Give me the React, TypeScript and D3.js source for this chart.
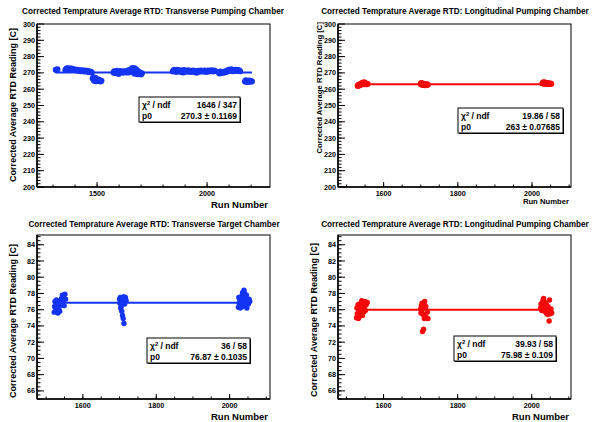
import React, { Component } from 'react';
import * as d3 from 'd3';

// run number, corrected average RTD reading [C]
const transPumping = [
  [1312, 272.0], [1316, 271.6], [1320, 272.2],
  [1356, 271.8], [1360, 272.6], [1364, 272.9], [1368, 272.3], [1372, 272.8], [1376, 271.9],
  [1380, 272.5], [1384, 272.7], [1388, 272.1], [1392, 272.4], [1396, 271.8], [1400, 272.0],
  [1404, 271.6], [1408, 271.9], [1412, 271.3], [1416, 271.7], [1420, 271.5], [1424, 271.0],
  [1428, 271.6], [1432, 271.2], [1436, 271.4], [1440, 270.9], [1444, 271.5], [1448, 271.1],
  [1452, 270.8], [1456, 271.3], [1460, 270.6], [1464, 271.0], [1468, 270.4], [1472, 270.7],
  [1476, 270.2],
  [1480, 266.5], [1484, 267.3], [1486, 265.2], [1490, 265.8], [1494, 266.8], [1496, 264.9],
  [1500, 265.5], [1504, 265.1], [1508, 265.9], [1512, 265.3], [1516, 264.8], [1520, 265.2],
  [1574, 270.2], [1578, 271.0], [1582, 269.8], [1586, 270.6], [1590, 271.3], [1594, 270.0],
  [1598, 269.4], [1602, 270.8], [1606, 271.2], [1610, 270.4], [1614, 270.9], [1618, 270.1],
  [1622, 270.7], [1626, 271.0], [1630, 270.5], [1634, 270.3],
  [1640, 271.5], [1644, 270.2], [1648, 271.8], [1652, 270.6], [1656, 272.3], [1660, 273.0],
  [1664, 272.5], [1668, 271.1], [1670, 269.5], [1672, 272.8], [1676, 270.0], [1680, 272.0],
  [1684, 269.2], [1688, 270.8], [1692, 269.6], [1696, 270.3], [1700, 269.0], [1704, 269.8],
  [1844, 270.8], [1848, 271.6], [1852, 272.0], [1856, 271.2], [1860, 270.6], [1864, 271.9],
  [1868, 271.4], [1872, 270.9], [1876, 271.7], [1880, 271.1], [1884, 270.4], [1888, 271.5],
  [1892, 270.2], [1896, 271.8], [1900, 271.0], [1904, 270.7], [1908, 271.3], [1912, 270.9],
  [1916, 271.6], [1920, 271.1], [1924, 270.5], [1928, 271.0], [1932, 270.8], [1936, 271.4],
  [1940, 270.6], [1944, 271.2], [1948, 270.9], [1952, 270.1], [1956, 270.6], [1960, 271.3],
  [1964, 270.7], [1968, 271.0], [1972, 271.5], [1976, 270.8], [1980, 271.2], [1984, 270.9],
  [1988, 271.4], [1992, 271.1], [1996, 270.6], [2000, 271.2], [2004, 271.5], [2008, 270.9],
  [2012, 271.3], [2016, 271.0], [2020, 271.6], [2024, 271.2], [2028, 270.8], [2032, 271.4],
  [2036, 271.1],
  [2052, 270.4], [2056, 269.6], [2060, 270.8], [2064, 269.9], [2068, 270.5], [2072, 270.1],
  [2076, 270.7], [2080, 270.3], [2084, 271.0], [2088, 270.6],
  [2094, 271.5], [2098, 271.9], [2102, 271.2], [2106, 271.7], [2110, 272.2], [2114, 271.4],
  [2118, 271.0], [2122, 271.8], [2126, 271.3], [2130, 272.0], [2134, 271.6], [2138, 271.2],
  [2142, 271.8], [2146, 271.4], [2150, 271.0],
  [2172, 264.8], [2176, 265.5], [2180, 264.4], [2184, 265.0], [2188, 264.6], [2192, 265.3],
  [2196, 264.5], [2200, 265.1], [2204, 264.7],
];

const longPumping = [
  [1530, 262.0], [1531, 262.4], [1533, 262.8], [1534, 262.2], [1536, 263.1], [1537, 262.6],
  [1539, 263.4], [1540, 262.9], [1541, 263.6], [1543, 263.2], [1544, 264.0], [1545, 263.5],
  [1547, 264.3], [1548, 263.8], [1549, 263.1], [1551, 263.6], [1552, 263.3], [1554, 263.0],
  [1555, 263.4], [1557, 263.2],
  [1700, 263.2], [1701, 263.8], [1702, 262.9], [1703, 263.5], [1704, 263.1], [1705, 262.6],
  [1706, 263.4], [1707, 263.0], [1708, 262.7], [1709, 263.3], [1711, 262.8], [1712, 263.1],
  [1713, 262.5], [1714, 262.9], [1716, 262.6], [1717, 263.0], [1719, 262.7],
  [2028, 263.5], [2029, 264.0], [2030, 263.6], [2031, 264.2], [2032, 263.8], [2033, 263.3],
  [2034, 263.9], [2035, 263.5], [2036, 264.1], [2037, 263.7], [2038, 263.4], [2039, 263.8],
  [2040, 263.5], [2041, 263.2], [2042, 263.6], [2043, 263.3], [2044, 263.7], [2045, 263.4],
  [2047, 263.2], [2048, 263.5], [2050, 263.3], [2052, 263.4],
];

const transTarget = [
  [1522, 75.7], [1523, 76.4], [1524, 77.0], [1526, 75.9], [1527, 76.7], [1528, 77.2],
  [1530, 76.1], [1532, 75.6], [1533, 76.9], [1535, 76.3], [1537, 75.8], [1538, 77.1],
  [1540, 76.6], [1542, 77.4], [1544, 77.8], [1545, 76.9], [1547, 77.5], [1549, 76.5],
  [1551, 77.9], [1553, 77.3],
  [1700, 77.3], [1701, 76.8], [1702, 77.5], [1703, 76.2], [1704, 77.0], [1705, 76.5],
  [1706, 75.8], [1707, 77.4], [1708, 75.3], [1709, 76.9], [1710, 74.9], [1711, 77.6],
  [1712, 74.3], [1713, 77.2], [1714, 76.7], [1716, 77.5], [1718, 77.1],
  [2024, 76.3], [2025, 77.5], [2026, 76.8], [2028, 77.2], [2029, 76.2], [2031, 77.6],
  [2032, 76.6], [2034, 77.0], [2035, 78.1], [2036, 76.4], [2038, 77.4], [2039, 78.4],
  [2040, 76.9], [2041, 78.0], [2043, 77.3], [2044, 76.6], [2046, 77.8], [2047, 76.2],
  [2049, 77.1], [2051, 76.7], [2053, 77.3], [2055, 77.0],
];

const longTarget = [
  [1527, 75.0], [1528, 76.2], [1529, 75.5], [1531, 76.6], [1532, 74.9], [1533, 75.8],
  [1535, 76.3], [1536, 75.2], [1538, 76.8], [1539, 75.6], [1541, 77.1], [1542, 76.0],
  [1543, 75.3], [1545, 76.9], [1546, 75.7], [1548, 76.4], [1550, 77.0], [1551, 75.9],
  [1553, 76.6], [1556, 76.9],
  [1700, 76.1], [1701, 75.6], [1702, 76.5], [1703, 75.9], [1704, 76.8], [1705, 73.3],
  [1706, 76.3], [1707, 75.4], [1708, 73.6], [1709, 76.7], [1710, 74.9], [1711, 77.0],
  [1712, 75.2], [1714, 76.4], [1716, 75.0], [1718, 75.7], [1720, 74.9],
  [2024, 76.2], [2025, 76.7], [2027, 75.9], [2028, 76.5], [2030, 77.1], [2031, 76.0],
  [2032, 77.4], [2034, 76.3], [2035, 75.8], [2036, 76.9], [2038, 76.2], [2039, 75.6],
  [2040, 76.6], [2042, 76.0], [2043, 75.4], [2044, 76.4], [2046, 75.7], [2047, 74.6],
  [2048, 77.2], [2050, 75.5], [2052, 76.1], [2054, 75.6],
];

// fit results: p0 and the stats box lines
const fitP0 = [270.3, 263, 76.87, 75.98];
const chi2Text = ['1646 / 347', '19.86 / 58', '36 / 58', '39.93 / 58'];
const p0Text = ['270.3 \u00b1 0.1169', '263 \u00b1 0.07685', '76.87 \u00b1 0.1035', '75.98 \u00b1 0.109'];

const titles = [
  'Corrected Temprature Average RTD: Transverse Pumping Chamber',
  'Corrected Temprature Average RTD: Longitudinal Pumping Chamber',
  'Corrected Temprature Average RTD: Transverse Target Chamber',
  'Corrected Temprature Average RTD: Longitudinal Pumping Chamber',
];

const pumpYTicks = [200, 210, 220, 230, 240, 250, 260, 270, 280, 290, 300];
const targetYTicks = [66, 68, 70, 72, 74, 76, 78, 80, 82, 84];
const wideXTicks = [1500, 2000];
const narrowXTicks = [1600, 1800, 2000];

const FONT = '"Liberation Sans", Arial, Helvetica, sans-serif';
const BLUE = '#1434f5';
const RED = '#f50a0a';

class Panel extends Component<any> {
  render() {
    const p = this.props;
    const x = d3.scaleLinear().domain(p.xDomain).range([p.left, p.left + p.width]);
    const y = d3.scaleLinear().domain(p.yDomain).range([p.top + p.height, p.top]);
    const bottom = p.top + p.height;
    const right = p.left + p.width;

    const xMinor = d3.range(Math.ceil(p.xDomain[0] / p.xMinorStep) * p.xMinorStep, p.xDomain[1], p.xMinorStep);
    const yMinor = d3.range(Math.ceil(p.yDomain[0] / p.yMinorStep) * p.yMinorStep, p.yDomain[1], p.yMinorStep);
    const runs = d3.extent(p.points, (d: number[]) => d[0]) as number[];

    const box = p.box;

    return (
      <g fontFamily={FONT} fontWeight="bold">
        <text x={p.titleX} y={p.titleY} textAnchor="middle" fontSize={8.2}>{p.title}</text>

        <rect x={p.left} y={p.top} width={p.width} height={p.height}
              fill="none" stroke="#000" strokeWidth={1} />

        {yMinor.map(v =>
          <line key={'ym' + v} x1={p.left} x2={p.left + 3.5} y1={y(v)} y2={y(v)}
                stroke="#000" strokeWidth={1} />
        )}
        {p.yTicks.map((v: number) =>
          <g key={'y' + v}>
            <line x1={p.left} x2={p.left + 7} y1={y(v)} y2={y(v)} stroke="#000" strokeWidth={1} />
            <text x={p.left - 2} y={y(v)} dy="0.35em" textAnchor="end" fontSize={7.2}>{v}</text>
          </g>
        )}
        {xMinor.map(v =>
          <line key={'xm' + v} x1={x(v)} x2={x(v)} y1={bottom} y2={bottom - 2.5}
                stroke="#000" strokeWidth={1} />
        )}
        {p.xTicks.map((v: number) =>
          <g key={'x' + v}>
            <line x1={x(v)} x2={x(v)} y1={bottom} y2={bottom - 5} stroke="#000" strokeWidth={1} />
            <text x={x(v)} y={bottom + 8.5} textAnchor="middle" fontSize={7.2}>{v}</text>
          </g>
        )}
        <line x1={p.left} x2={p.left} y1={p.top} y2={bottom} stroke="#000" strokeWidth={1.5} />
        <line x1={p.left} x2={right} y1={bottom} y2={bottom} stroke="#000" strokeWidth={1.5} />

        <text transform={`translate(${p.yLabelX},${p.yLabelEnd}) rotate(-90)`}
              textAnchor="end" fontSize={p.yLabelSize}>Corrected Average RTD Reading [C]</text>
        <text x={right - 2} y={p.xLabelY} textAnchor="end" fontSize={p.xLabelSize}>Run Number</text>

        {p.points.map((d: number[], i: number) =>
          <circle key={i} cx={x(d[0])} cy={y(d[1])} r={p.r} fill={p.color} />
        )}
        <line x1={x(runs[0])} x2={x(runs[1])} y1={y(p.p0)} y2={y(p.p0)}
              stroke={p.color} strokeWidth={2} />

        <rect x={box[0] + 1} y={box[1] + 1} width={box[2]} height={box[3]} fill="#000" />
        <rect x={box[0]} y={box[1]} width={box[2]} height={box[3]} fill="#fff" stroke="#000" strokeWidth={1} />
        <text x={box[0] + 3} y={box[1] + 10.5} fontSize={8.5}>
          {'\u03c7'}<tspan fontSize={5.8} dy={-3}>2</tspan><tspan dy={3}> / ndf</tspan>
        </text>
        <text x={box[0] + box[2] - 3} y={box[1] + 10.5} textAnchor="end" fontSize={8.5}>{p.chi2}</text>
        <text x={box[0] + 3} y={box[1] + 21.5} fontSize={8.5}>p0</text>
        <text x={box[0] + box[2] - 3} y={box[1] + 21.5} textAnchor="end" fontSize={8.5}>{p.p0Label}</text>
      </g>
    );
  }
}

class App extends Component {
  render() {
    return (
      <svg width="592" height="422" style={{ position: 'absolute', left: 0, top: 0, background: '#fff' }}>
        <rect width="592" height="422" fill="#fff" />
        <Panel title={titles[0]} titleX={153} titleY={13.5}
               left={37} top={24} width={233} height={163}
               xDomain={[1227, 2286]} yDomain={[200, 300]}
               xTicks={wideXTicks} xMinorStep={100} yTicks={pumpYTicks} yMinorStep={2}
               points={transPumping} p0={fitP0[0]} color={BLUE} r={3}
               yLabelX={16} yLabelEnd={28} yLabelSize={9} xLabelY={207.5} xLabelSize={9.5}
               box={[139, 97, 101, 25]} chi2={chi2Text[0]} p0Label={p0Text[0]} />
        <Panel title={titles[1]} titleX={455} titleY={13.5}
               left={338} top={24} width={233} height={163}
               xDomain={[1477, 2105]} yDomain={[200, 300]}
               xTicks={narrowXTicks} xMinorStep={50} yTicks={pumpYTicks} yMinorStep={2}
               points={longPumping} p0={fitP0[1]} color={RED} r={3}
               yLabelX={321.5} yLabelEnd={22} yLabelSize={7.7} xLabelY={204} xLabelSize={7.7}
               box={[458, 108, 105, 25]} chi2={chi2Text[1]} p0Label={p0Text[1]} />
        <Panel title={titles[2]} titleX={154} titleY={226.5}
               left={37} top={235} width={233} height={164}
               xDomain={[1475, 2110]} yDomain={[65, 85.2]}
               xTicks={narrowXTicks} xMinorStep={50} yTicks={targetYTicks} yMinorStep={0.5}
               points={transTarget} p0={fitP0[2]} color={BLUE} r={2.7}
               yLabelX={16} yLabelEnd={244} yLabelSize={9} xLabelY={419.5} xLabelSize={9.5}
               box={[147, 338, 103, 25]} chi2={chi2Text[2]} p0Label={p0Text[2]} />
        <Panel title={titles[3]} titleX={455} titleY={226.5}
               left={338} top={235} width={233} height={164}
               xDomain={[1477, 2106]} yDomain={[65, 85.2]}
               xTicks={narrowXTicks} xMinorStep={50} yTicks={targetYTicks} yMinorStep={0.5}
               points={longTarget} p0={fitP0[3]} color={RED} r={2.7}
               yLabelX={317} yLabelEnd={243} yLabelSize={9} xLabelY={419.5} xLabelSize={9.5}
               box={[454, 336, 102, 25]} chi2={chi2Text[3]} p0Label={p0Text[3]} />
      </svg>
    );
  }
}

export default App;
